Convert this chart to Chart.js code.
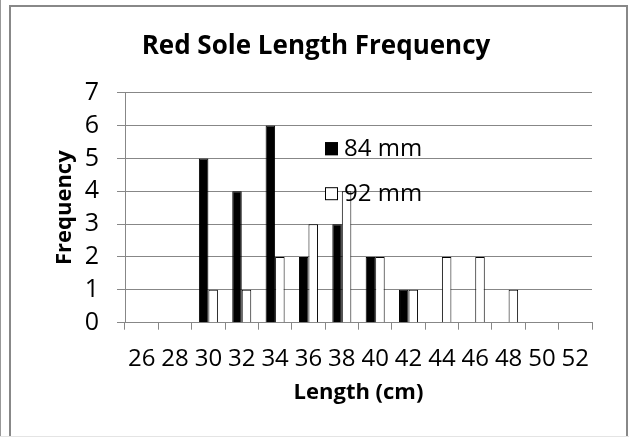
<!DOCTYPE html>
<html>
<head>
<meta charset="utf-8">
<script src="https://cdn.jsdelivr.net/npm/chart.js@4/dist/chart.umd.min.js"></script>
<style>
  html, body { margin: 0; padding: 0; background: #fff; }
  #wrap { position: relative; width: 629px; height: 437px; overflow: hidden; }
  #c { position: absolute; left: 0; top: 0; }
  #frame { position: absolute; left: 9px; top: 5px; width: 615px; height: 440px;
           border: 2px solid #888; border-bottom: none; pointer-events: none; }
  #edge { position: absolute; left: 0; top: 0; width: 1px; height: 437px; background: #999; }
  #base { position: absolute; left: 0; top: 436px; width: 629px; height: 1px; background: #e4e4e4; }
</style>
</head>
<body>
<div id="wrap">
  <canvas id="c" width="629" height="437"></canvas>
  <div id="frame"></div>
  <div id="edge"></div>
  <div id="base"></div>
</div>
<script>
const categories = ['26','28','30','32','34','36','38','40','42','44','46','48','50','52'];
const series84 = [0, 0, 5, 4, 6, 2, 3, 2, 1, 0, 0, 0, 0, 0];
const series92 = [0, 0, 1, 1, 2, 3, 4, 2, 1, 2, 2, 1, 0, 0];
const seriesNames = ['84 mm', '92 mm'];
const chartTitle = 'Red Sole Length Frequency';
const xTitle = 'Length (cm)';
const yTitle = 'Frequency';

const FONT = "'Open Sans', 'DejaVu Sans', sans-serif";
const GRID = '#878787';

const insideLegend = {
  id: 'insideLegend',
  afterDatasetsDraw(chart) {
    const { ctx, chartArea } = chart;
    const x0 = chartArea.left + 200;
    let y0 = chartArea.top + 49.5;
    ctx.save();
    ctx.font = "24px " + FONT;
    ctx.textBaseline = 'middle';
    ctx.textAlign = 'left';
    chart.data.datasets.forEach((ds) => {
      ctx.fillStyle = ds.backgroundColor;
      ctx.fillRect(x0, y0, 13, 13);
      ctx.strokeStyle = '#000';
      ctx.lineWidth = 1;
      ctx.strokeRect(x0 + 0.5, y0 + 0.5, 12, 12);
      ctx.fillStyle = '#000';
      ctx.fillText(ds.label, x0 + 19, y0 + 7);
      y0 += 45;
    });
    ctx.restore();
  }
};

new Chart(document.getElementById('c'), {
  type: 'bar',
  data: {
    labels: categories,
    datasets: [
      { label: seriesNames[0], data: series84, backgroundColor: '#000000', borderColor: '#000000', borderWidth: 1, borderSkipped: 'start' },
      { label: seriesNames[1], data: series92, backgroundColor: '#ffffff', borderColor: '#000000', borderWidth: 1, borderSkipped: 'start' }
    ]
  },
  options: {
    responsive: false,
    animation: false,
    devicePixelRatio: 1,
    layout: { padding: { left: 40, right: 37, top: 10, bottom: 20 } },
    datasets: { bar: { categoryPercentage: 0.57, barPercentage: 1.0 } },
    plugins: {
      legend: { display: false },
      tooltip: { enabled: false },
      title: {
        display: true,
        text: chartTitle,
        color: '#000',
        font: { family: FONT, size: 26, weight: 'bold' },
        padding: { top: 21, bottom: 30.5 }
      }
    },
    scales: {
      x: {
        offset: true,
        grid: { offset: true, drawOnChartArea: false, drawTicks: true, tickLength: 7, color: GRID },
        border: { display: true, color: GRID, width: 1 },
        ticks: { color: '#000', font: { family: FONT, size: 24 }, padding: 15, maxRotation: 0, autoSkip: false },
        title: { display: true, text: xTitle, color: '#000', font: { family: FONT, size: 22, weight: 'bold' }, padding: { top: 4, bottom: 11 } },
        afterFit(scale) { scale.height = 94.3; }
      },
      y: {
        min: 0, max: 7,
        ticks: { stepSize: 1, autoSkip: false, color: '#000', font: { family: FONT, size: 25 }, padding: 18 },
        grid: { color: GRID, drawTicks: true, tickLength: 8 },
        border: { display: true, color: GRID, width: 1 },
        title: { display: true, text: yTitle, color: '#000', font: { family: FONT, size: 22, weight: 'bold' }, padding: { top: 12, bottom: 4 } },
        afterFit(scale) { scale.width = 85; }
      }
    }
  },
  plugins: [insideLegend]
});
</script>
</body>
</html>
